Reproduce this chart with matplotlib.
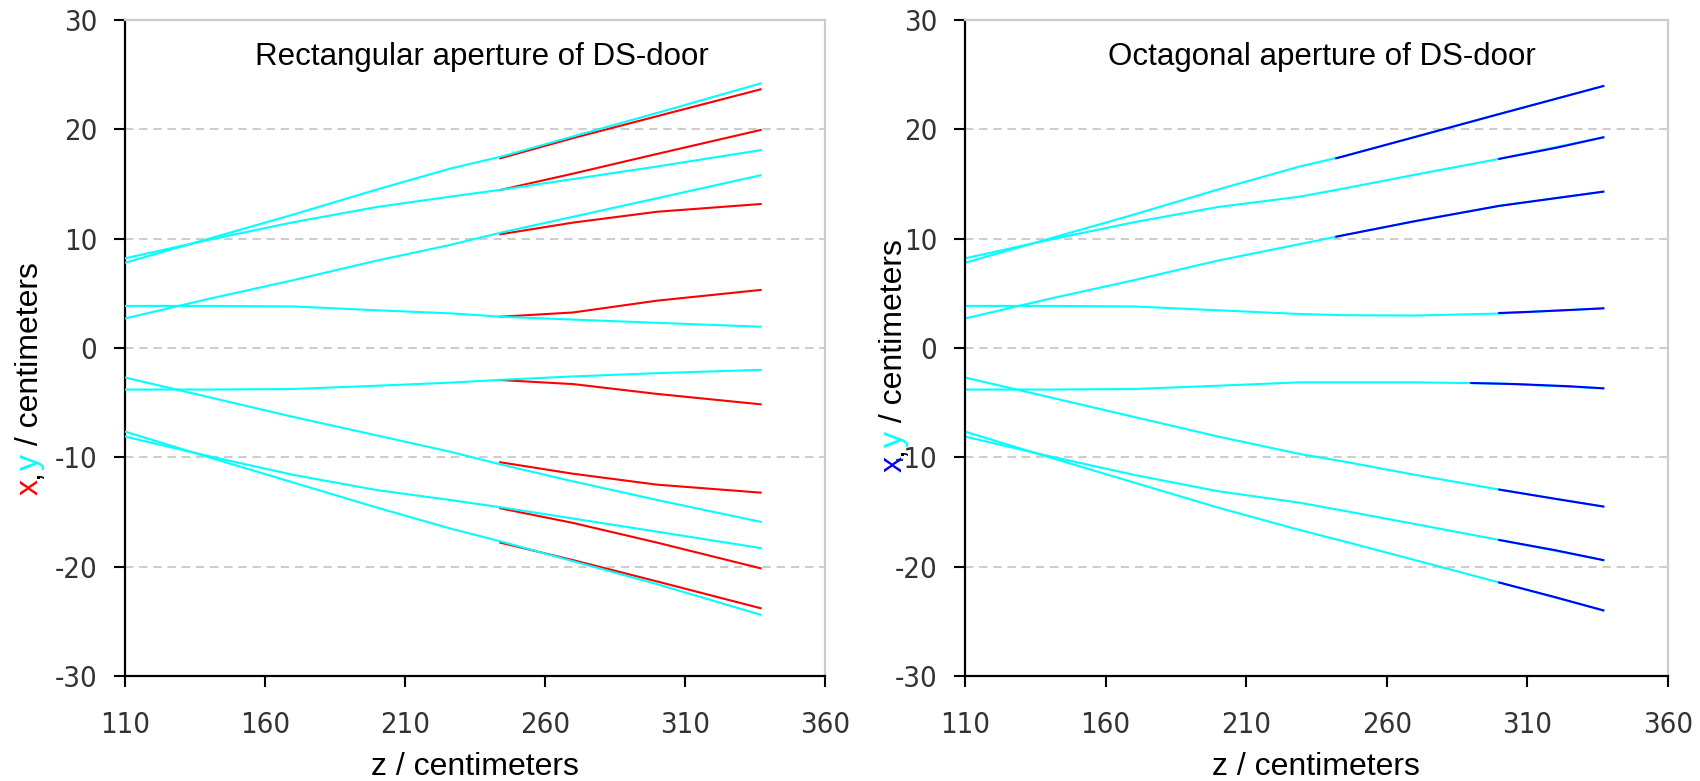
import matplotlib
matplotlib.use("Agg")
import matplotlib.pyplot as plt
from matplotlib import font_manager

plt.rcParams["axes.unicode_minus"] = False

# ---------- Fonts ----------
# tick labels in the reference use a narrow face; take one if the system has it
TICK_FP = None
for f in font_manager.fontManager.ttflist:
    if ("Narrow" in f.name or "Condensed" in f.fname) and "Bold" not in f.fname \
            and "Oblique" not in f.fname and "Italic" not in f.fname \
            and ("Liberation" in f.name or "DejaVu Sans" in f.name):
        TICK_FP = f.fname
        break
TEXT_FONT = "Liberation Sans"

W, H = 1700, 781

# ---------- Data: y-ray traces (cyan), left panel ----------
z_y = [110, 140, 170, 200, 226, 245, 270, 300, 337]
y_left = [
    [7.8, 10.0, 12.2, 14.5, 16.4, 17.55, 19.35, 21.5, 24.2],
    [8.2, 9.9, 11.5, 12.9, 13.84, 14.5, 15.45, 16.6, 18.1],
    [2.7, 4.5, 6.2, 8.0, 9.42, 10.6, 12.0, 13.7, 15.8],
    [3.85, 3.85, 3.8, 3.45, 3.17, 2.85, 2.6, 2.3, 1.95],
    [-2.7, -4.5, -6.3, -8.0, -9.48, -10.7, -12.2, -13.9, -15.9],
    [-3.8, -3.8, -3.75, -3.45, -3.17, -2.9, -2.6, -2.3, -2.0],
    [-7.65, -10.0, -12.3, -14.6, -16.5, -17.75, -19.5, -21.6, -24.4],
    [-8.1, -9.9, -11.6, -13.0, -13.9, -14.6, -15.6, -16.8, -18.3],
]

# x-ray traces (red), rectangular aperture
z_x = [244, 270, 300, 337]
x_rect = [
    [17.35, 19.2, 21.2, 23.66],
    [14.45, 15.95, 17.75, 19.94],
    [10.4, 11.47, 12.46, 13.17],
    [2.86, 3.25, 4.33, 5.31],
    [-10.45, -11.5, -12.5, -13.23],
    [-2.93, -3.3, -4.2, -5.15],
    [-17.8, -19.4, -21.35, -23.8],
    [-14.66, -16.0, -17.8, -20.15],
]

# ---------- Data: right panel (octagonal aperture) ----------
z_y_oct = [110, 140, 170, 200, 229, 245, 270, 300, 337]
y_oct = [
    [7.8, 10.0, 12.2, 14.5, 16.6, 17.56, 19.3, 21.4, 23.96],
    [8.2, 9.9, 11.5, 12.9, 13.84, 14.6, 15.85, 17.3, 19.27],
    [2.7, 4.5, 6.2, 8.0, 9.5, 10.34, 11.6, 13.0, 14.3],
    [3.85, 3.85, 3.8, 3.45, 3.11, 3.0, 2.97, 3.15, 3.63],
    [-2.7, -4.5, -6.3, -8.1, -9.69, -10.4, -11.6, -12.95, -14.5],
    [-3.8, -3.8, -3.75, -3.45, -3.14, -3.14, -3.14, -3.25, -3.69],
    [-7.65, -10.0, -12.3, -14.6, -16.65, -17.7, -19.4, -21.45, -24.0],
    [-8.1, -9.9, -11.6, -13.1, -14.15, -14.9, -16.1, -17.56, -19.4],
]

# x-ray traces (blue), only the stretches where they show
z_oct_1 = [242, 270, 300, 337]
x_oct_1 = [17.35, 19.3, 21.4, 23.96]
z_oct_2 = [300, 320, 337]
x_oct_2 = [17.3, 18.3, 19.27]
z_oct_3 = [242, 270, 300, 337]
x_oct_3 = [10.18, 11.6, 13.0, 14.3]
z_oct_4 = [300, 310, 327, 337]
x_oct_4 = [3.2, 3.3, 3.5, 3.63]
z_oct_5 = [300, 320, 337]
x_oct_5 = [-12.95, -13.8, -14.5]
z_oct_6 = [290, 306, 325, 337]
x_oct_6 = [-3.2, -3.3, -3.5, -3.69]
z_oct_7 = [300, 320, 337]
x_oct_7 = [-21.45, -22.8, -24.0]
z_oct_8 = [300, 320, 337]
x_oct_8 = [-17.56, -18.5, -19.4]

x_ticks = [110, 160, 210, 260, 310, 360]
y_ticks = [-30, -20, -10, 0, 10, 20, 30]

CYAN = "#00ffff"
RED = "#ff0000"
BLUE = "#0000ff"
LW = 1.5


def style_axes(ax):
    ax.set_xlim(110, 360)
    ax.set_ylim(-30, 30)
    ax.set_xticks(x_ticks)
    ax.set_yticks(y_ticks)
    ax.set_facecolor("white")
    for s in ("left", "bottom"):
        ax.spines[s].set_color("black")
        ax.spines[s].set_linewidth(1.6)
    for s in ("top", "right"):
        ax.spines[s].set_color("#cccccc")
        ax.spines[s].set_linewidth(1.6)
    ax.tick_params(axis="both", direction="out", length=8, width=1.5,
                   colors="black", labelcolor="#333333", labelsize=21)
    ax.tick_params(axis="y", pad=12)
    ax.tick_params(axis="x", pad=17)
    for lab in ax.get_xticklabels() + ax.get_yticklabels():
        if TICK_FP:
            lab.set_fontproperties(font_manager.FontProperties(fname=TICK_FP, size=21))
        else:
            lab.set_family("DejaVu Sans")
    for yv in [-20, -10, 0, 10, 20]:
        ax.axhline(yv, color="#c4c4c4", lw=1.2, ls=(0, (5, 3.5)), zorder=0.5)


def color_ylabel(fig, x_px, y_px, pieces, size=23):
    r = fig.canvas.get_renderer()
    y = y_px
    for s, c in pieces:
        t = fig.text(x_px / W, y / H, s, rotation=90, rotation_mode="anchor",
                     ha="left", va="baseline", color=c, fontsize=size,
                     family=TEXT_FONT)
        y += t.get_window_extent(r).height


fig = plt.figure(figsize=(W / 100, H / 100), dpi=100)
fig.patch.set_facecolor("white")

ax1 = fig.add_axes([125 / W, 1 - 676 / H, 700 / W, 656 / H])
ax2 = fig.add_axes([965 / W, 1 - 676 / H, 703 / W, 656 / H])

# ---------- Left: rectangular ----------
style_axes(ax1)
for vals in x_rect:
    ax1.plot(z_x, vals, color=RED, lw=LW, zorder=2)
for vals in y_left:
    ax1.plot(z_y, vals, color=CYAN, lw=LW, zorder=3)
ax1.text(0.51, 0.9314, "Rectangular aperture of DS-door", transform=ax1.transAxes,
         ha="center", va="baseline", fontsize=22.5, family=TEXT_FONT)

# ---------- Right: octagonal ----------
style_axes(ax2)
for vals in y_oct:
    ax2.plot(z_y_oct, vals, color=CYAN, lw=LW, zorder=2)
for zz, vals in [(z_oct_1, x_oct_1), (z_oct_2, x_oct_2), (z_oct_3, x_oct_3),
                 (z_oct_4, x_oct_4), (z_oct_5, x_oct_5), (z_oct_6, x_oct_6),
                 (z_oct_7, x_oct_7), (z_oct_8, x_oct_8)]:
    ax2.plot(zz, vals, color=BLUE, lw=LW, zorder=3)
ax2.text(0.508, 0.9314, "Octagonal aperture of DS-door", transform=ax2.transAxes,
         ha="center", va="baseline", fontsize=22.5, family=TEXT_FONT)

# ---------- Axis labels ----------
fig.text(475 / W, 6 / H, "z / centimeters", ha="center", va="baseline",
         fontsize=23, family=TEXT_FONT)
fig.text(1316 / W, 6 / H, "z / centimeters", ha="center", va="baseline",
         fontsize=23, family=TEXT_FONT)

color_ylabel(fig, 38, 286, [("x", RED), (",", "black"), ("y", CYAN),
                            (" / centimeters", "black")])
color_ylabel(fig, 902, 309, [("x", BLUE), (",", "black"), ("y", CYAN),
                             (" / centimeters", "black")])

fig.savefig("out.png", dpi=100)
